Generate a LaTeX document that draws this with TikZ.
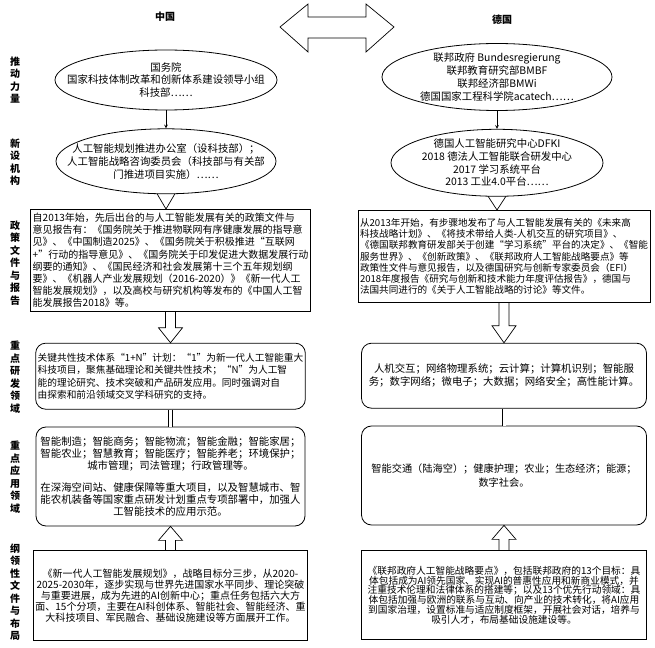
\documentclass[tikz,border=0pt]{standalone}
\usepackage{fontspec}
\setmainfont{Noto Sans CJK SC}
\usetikzlibrary{calc, shapes.geometric}

\begin{document}
\begin{tikzpicture}[x=1bp, y=-1bp,
    ELL/.style={ellipse, draw=black, line width=0.8pt, inner sep=-40bp, align=center, font=\fontsize{10.4bp}{12.8bp}\selectfont},
    BOX/.style={rectangle, draw=black, line width=0.8pt, inner sep=2bp, anchor=north, font=\fontsize{9.7bp}{#1}\selectfont},
    BOX/.default=12bp,
    RBOX/.style={BOX=#1, rounded corners=10bp},
    RBOX/.default=12bp,
    LAB/.style={align=center, font=\bfseries\fontsize{10bp}{12.5bp}\selectfont},
    HOLLOW/.style={draw=black, line width=0.7pt, line join=miter}
    ]
        \useasboundingbox (0,0) rectangle (655,648);
        % titles and the double arrow
        \node[LAB] (CNtitle) at (165,17) {中国};
        \node[LAB] (DEtitle) at (502,20) {德国};
        \draw[HOLLOW] (280,27) -- (308,4) -- (308,17) -- (366,17) -- (366,4) -- (394,27) -- (366,52) -- (366,38) -- (308,38) -- (308,52) -- cycle;
        % row labels
        \node[LAB] (Ldrive) at (15,80) {推\\动\\力\\量};
        \node[LAB] (Lnew) at (15,162) {新\\设\\机\\构};
        \node[LAB] (Lpol) at (15,263) {政\\策\\文\\件\\与\\报\\告};
        \node[LAB] (Lrd) at (15,377) {重\\点\\研\\发\\领\\域};
        \node[LAB] (Lapp) at (15,477) {重\\点\\应\\用\\领\\域};
        \node[LAB] (Llay) at (15,592) {纲\\领\\性\\文\\件\\与\\布\\局};
        % China
        \node[ELL, minimum width=222bp, minimum height=60bp] (CNgov) at (166,80) {国务院\\国家科技体制改革和创新体系建设领导小组\\科技部……};
        \node[ELL, minimum width=220bp, minimum height=65bp, anchor=north] (CNnew) at ($(CNgov.south)+(0,18)$) {人工智能规划推进办公室（设科技部）；\\人工智能战略咨询委员会（科技部与有关部\\门推进项目实施）……};
        \node[BOX=12.2bp, align=left, minimum width=269bp, minimum height=102bp, font=\fontsize{10bp}{12.2bp}\selectfont] (CNpol) at (170.5,209) {自2013年始，先后出台的与人工智能发展有关的政策文件与\\意见报告有：《国务院关于推进物联网有序健康发展的指导意\\见》、《中国制造2025》、《国务院关于积极推进“互联网\\+”行动的指导意见》、《国务院关于印发促进大数据发展行动\\纲要的通知》、《国民经济和社会发展第十三个五年规划纲\\要》、《机器人产业发展规划（2016-2020）》《新一代人工\\智能发展规划》，以及高校与研究机构等发布的《中国人工智\\能发展报告2018》等。};
        \node[RBOX=12.3bp, align=left, minimum width=269bp, minimum height=66bp] (CNrd) at ($(CNpol.south)+(0,31)$) {关键共性技术体系“1+N”计划：“1”为新一代人工智能重大\\科技项目，聚焦基础理论和关键共性技术；“N”为人工智\\能的理论研究、技术突破和产品研发应用。同时强调对自\\由探索和前沿领域交叉学科研究的支持。};
        \node[RBOX=12bp, align=center, minimum width=269bp, minimum height=99bp, font=\fontsize{10.4bp}{12bp}\selectfont] (CNapp) at ($(CNrd.south)+(0,17)$) {智能制造；智能商务；智能物流；智能金融；智能家居；\\智能农业；智慧教育；智能医疗；智能养老；环境保护；\\城市管理；司法管理；行政管理等。\\[10bp]在深海空间站、健康保障等重大项目，以及智慧城市、智\\能农机装备等国家重点研发计划重点专项部署中，加强人\\工智能技术的应用示范。};
        \node[BOX=11bp, align=center, minimum width=269bp, minimum height=90bp, font=\fontsize{10bp}{11bp}\selectfont] (CNlay) at ($(CNapp.south)+(0,24)$) {《新一代人工智能发展规划》，战略目标分三步，从2020-\\2025-2030年，逐步实现与世界先进国家水平同步、理论突破\\与重要进展，成为先进的AI创新中心；重点任务包括六大方\\面、15个分项，主要在AI科创体系、智能社会、智能经济、重\\大科技项目、军民融合、基础设施建设等方面展开工作。};
        % Germany
        \node[ELL, minimum width=230bp, minimum height=67bp] (DEgov) at (497,77) {联邦政府 Bundesregierung\\联邦教育研究部BMBF\\联邦经济部BMWi\\德国国家工程科学院acatech……};
        \node[ELL, minimum width=212bp, minimum height=67bp, anchor=north] (DEnew) at ($(DEgov.south)+(0,18)$) {德国人工智能研究中心DFKI\\2018 德法人工智能联合研发中心\\2017 学习系统平台\\2013 工业4.0平台……};
        \node[BOX=11.2bp, align=left, minimum width=284bp, minimum height=92bp, font=\fontsize{9.6bp}{11.2bp}\selectfont] (DEpol) at (504,210) {从2013年开始，有步骤地发布了与人工智能发展有关的《未来高\\科技战略计划》、《将技术带给人类-人机交互的研究项目》、\\《德国联邦教育研发部关于创建“学习系统”平台的决定》、《智能\\服务世界》、《创新政策》、《联邦政府人工智能战略要点》等\\政策性文件与意见报告，以及德国研究与创新专家委员会（EFI）\\2018年度报告《研究与创新和技术能力年度评估报告》，德国与\\法国共同进行的《关于人工智能战略的讨论》等文件。};
        \node[RBOX=13bp, align=center, minimum width=285bp, minimum height=65bp, font=\fontsize{10.4bp}{13bp}\selectfont] (DErd) at ($(DEpol.south)+(0,40)$) {人机交互；网络物理系统；云计算；计算机识别；智能服\\务；数字网络；微电子；大数据；网络安全；高性能计算。};
        \node[RBOX=14bp, align=center, minimum width=285bp, minimum height=99bp, font=\fontsize{10.2bp}{14bp}\selectfont] (DEapp) at ($(DErd.south)+(0,17)$) {智能交通（陆海空）；健康护理；农业；生态经济；能源；\\数字社会。};
        \node[BOX=9.9bp, align=center, minimum width=285bp, minimum height=89bp] (DElay) at ($(DEapp.south)+(0,25)$) {《联邦政府人工智能战略要点》，包括联邦政府的13个目标：具\\体包括成为AI领先国家、实现AI的普惠性应用和新商业模式，并\\注重技术伦理和法律体系的搭建等；以及13个优先行动领域：具\\体包括加强与欧洲的联系与互动、向产业的技术转化，将AI应用\\到国家治理，设置标准与适应制度框架，开展社会对话，培养与\\吸引人才，布局基础设施建设等。};
        % connectors
        \draw[->, >=stealth, line width=0.7pt] (CNgov) -- (CNnew);
        \draw[->, >=stealth, line width=0.7pt] (DEgov) -- (DEnew);
        \foreach \e/\p in {CNnew/CNpol, DEnew/DEpol}
            \draw[HOLLOW] ($(\e.south)+(-9,-0.5)$) -- (\e.south |- \p.north) -- ($(\e.south)+(9,-0.5)$);
        \foreach \a/\b/\h in {CNpol.south/CNrd.north/-15, DEpol.south/DErd.north/-17, CNlay.north/CNapp.south/14, DElay.north/DEapp.south/14}
            \draw[HOLLOW] ($(\a)+(-5,0)$) -- ($(\b)+(-5,\h)$) -- ($(\b)+(-12,\h)$) -- (\b) -- ($(\b)+(12,\h)$) -- ($(\b)+(5,\h)$) -- ($(\a)+(5,0)$);
        \draw[double, double distance=3bp, line width=0.6pt] (CNrd) -- (CNapp);
        \draw[double, double distance=3bp, line width=0.6pt] (DErd) -- (DEapp);
    \end{tikzpicture}
\end{document}
